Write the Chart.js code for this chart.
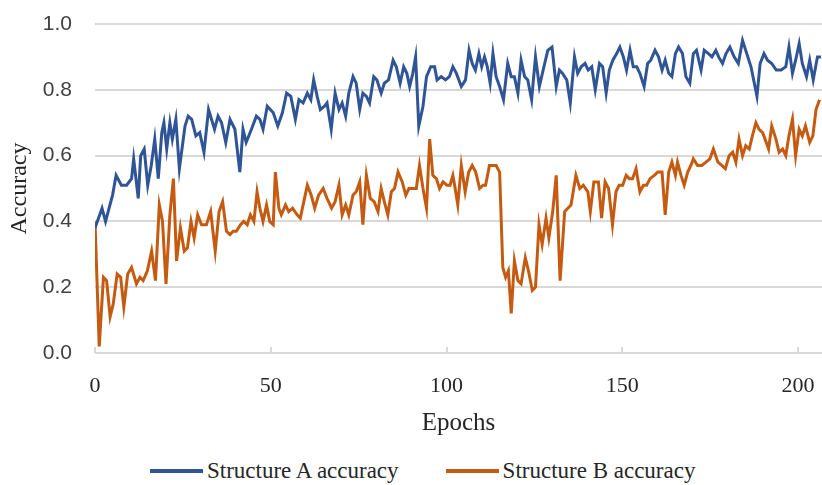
<!DOCTYPE html>
<html lang="en">
<head>
    <meta charset="UTF-8">
    <title>Structure accuracy</title>
    <style>
        body {
            margin: 0;
            background: #ffffff;
        }

        .chart-box {
            position: relative;
            width: 822px;
            height: 450px;
        }

        .legend {
            display: flex;
            align-items: center;
            height: 35px;
            margin-top: 3px;
            padding-left: 150px;
            font-family: 'Liberation Serif', 'Times New Roman', serif;
            font-size: 23px;
            color: #262626;
        }

        .legend-item {
            display: flex;
            align-items: center;
            margin-right: 47px;
        }

        .legend-line {
            width: 53px;
            height: 4px;
            margin-right: 4px;
        }
    </style>
</head>
<body>
    <div class="chart-box">
        <canvas id="accChart"></canvas>
    </div>
    <div class="legend">
        <div class="legend-item">
            <div class="legend-line" style="background: #2f5597;"></div>
            <span>Structure A accuracy</span>
        </div>
        <div class="legend-item">
            <div class="legend-line" style="background: #c55a11;"></div>
            <span>Structure B accuracy</span>
        </div>
    </div>

    <script src="https://cdn.jsdelivr.net/npm/chart.js"></script>
    <script>
        // values
        const epochsA = [
            0, 2, 3, 5, 6, 7.5, 9, 10.4, 11, 12.3, 13, 14, 15, 16, 17, 18, 19, 19.6, 20.4, 21.3,
            22, 23, 24, 25.6, 26.5, 27.5, 28.7, 29.8, 31, 32.3, 34, 35, 36, 37.2, 38.4, 39.8, 41.2, 42.1, 43, 44.5,
            45.9, 46.9, 47.8, 49, 50.7, 52, 53.3, 54.5, 55.7, 57, 58, 59.2, 60.4, 61.4, 62.2, 63.2, 64.1, 65.3, 66, 67.2,
            68.3, 69.4, 70.3, 71.3, 72.2, 73.4, 74.3, 75.3, 76.2, 77.2, 78.1, 79.3, 80.2, 81.4, 82.3, 83.5, 84.8, 85.7, 86.8, 87.8,
            88.7, 89.5, 90.4, 91.2, 92.1, 93.3, 94.3, 95.5, 96.6, 97.3, 98.5, 99.7, 100.8, 101.8, 102.8, 104.2, 105.4, 106.4, 107.3, 108.2,
            109.2, 110, 110.8, 111.6, 112.4, 113.2, 114.1, 115.1, 116.2, 117.4, 118.4, 119.3, 120.3, 121.2, 122.2, 123.1, 124.2, 125.3, 126.4, 127.7,
            128.8, 130, 131.2, 132.1, 133, 134.2, 135.2, 136.4, 137.3, 138.3, 139.4, 140.3, 141.3, 142.3, 143.5, 144.4, 145.4, 146.3, 147.3, 148.4,
            149.3, 150.3, 151.2, 152.2, 153.1, 154.1, 155, 156.2, 157.2, 158.1, 159.3, 160.3, 161.3, 162.2, 163.2, 164.1, 165.1, 166, 167.1, 168.1,
            169.2, 170.2, 171.1, 172.4, 173.3, 174.5, 175.5, 176.6, 177.4, 178.5, 179.5, 180.6, 181.8, 183, 184.2, 185.4, 186.6, 188.3, 189.2, 190.3,
            191.3, 192.5, 193.8, 195.2, 196.5, 197.4, 198.4, 199.3, 200.3, 201.2, 202.4, 203.3, 204.3, 205.5, 206.5
        ];
        const accA = [
            0.38, 0.44, 0.40, 0.48, 0.54, 0.51, 0.51, 0.53, 0.59, 0.47, 0.60, 0.62, 0.51, 0.57, 0.65, 0.53, 0.67, 0.70, 0.62, 0.70,
            0.65, 0.71, 0.56, 0.69, 0.72, 0.71, 0.66, 0.67, 0.61, 0.74, 0.68, 0.72, 0.70, 0.64, 0.71, 0.68, 0.55, 0.68, 0.64, 0.68,
            0.72, 0.71, 0.68, 0.75, 0.73, 0.69, 0.73, 0.79, 0.78, 0.71, 0.77, 0.76, 0.79, 0.77, 0.83, 0.78, 0.74, 0.75, 0.76, 0.68,
            0.79, 0.74, 0.76, 0.72, 0.79, 0.84, 0.82, 0.74, 0.79, 0.78, 0.76, 0.84, 0.83, 0.79, 0.82, 0.83, 0.89, 0.87, 0.82, 0.87,
            0.85, 0.81, 0.85, 0.90, 0.69, 0.75, 0.84, 0.87, 0.87, 0.83, 0.84, 0.83, 0.84, 0.87, 0.85, 0.81, 0.83, 0.92, 0.88, 0.86,
            0.91, 0.87, 0.90, 0.87, 0.82, 0.91, 0.84, 0.81, 0.77, 0.88, 0.84, 0.84, 0.79, 0.89, 0.84, 0.83, 0.77, 0.90, 0.81, 0.87,
            0.92, 0.93, 0.81, 0.86, 0.85, 0.83, 0.76, 0.90, 0.85, 0.87, 0.88, 0.86, 0.87, 0.80, 0.88, 0.87, 0.79, 0.86, 0.89, 0.91,
            0.93, 0.90, 0.86, 0.92, 0.87, 0.87, 0.85, 0.81, 0.88, 0.89, 0.92, 0.90, 0.86, 0.89, 0.85, 0.84, 0.91, 0.93, 0.91, 0.84,
            0.82, 0.91, 0.92, 0.86, 0.92, 0.91, 0.90, 0.92, 0.90, 0.88, 0.91, 0.93, 0.90, 0.88, 0.95, 0.91, 0.87, 0.78, 0.88, 0.91,
            0.89, 0.88, 0.86, 0.86, 0.87, 0.93, 0.85, 0.89, 0.94, 0.88, 0.84, 0.89, 0.83, 0.90, 0.90
        ];

        const epochsB = [
            0, 1.2, 2.4, 3.3, 4.3, 5.2, 6.3, 7.3, 8.2, 9.3, 10.4, 11.8, 12.8, 13.7, 14.9, 16.1, 17.2, 18.3, 19.2, 20.2,
            21.3, 22.3, 23.2, 24.3, 25.4, 26.3, 27.3, 28.2, 29.2, 30.3, 31.7, 32.9, 34.2, 35.3, 36.3, 37.4, 38.4, 39.3, 40.2, 41.4,
            42.3, 43.3, 44.2, 45.2, 46.1, 46.9, 47.8, 48.8, 49.7, 50.7, 51.3, 52.3, 53, 54.2, 55.1, 56.2, 57.5, 58.4, 59.4, 60.4,
            61.5, 62.5, 63.6, 64.9, 66, 67.3, 68.3, 69.4, 70.3, 71.3, 72.2, 73.4, 74.3, 75.3, 76.2, 77.2, 78.3, 79.4, 80.5, 81.4,
            82.3, 83.3, 84.3, 85.2, 86.2, 87.4, 88.4, 89.3, 90.4, 91.4, 92.3, 93.3, 94.3, 95.2, 96.1, 97.1, 98, 99, 100.1, 101,
            101.8, 102.3, 103.2, 104.2, 105.3, 106.3, 107.3, 108.3, 109.4, 110.4, 111.1, 112.2, 113.2, 114.1, 115.1, 116, 116.8, 117.6, 118.4, 119.3,
            120.3, 121.2, 122.4, 123.3, 124.4, 125.3, 126.3, 127.2, 128.3, 129.1, 130.2, 131.2, 132.3, 133.6, 134.5, 135.4, 136.8, 137.9, 138.9, 140.2,
            140.9, 141.9, 143.2, 144.1, 145.1, 146.1, 147.2, 148.2, 149.1, 150.1, 151.1, 152, 152.9, 153.9, 155, 156, 156.9, 157.9, 159.1, 160.1,
            161.3, 162.2, 163.2, 164.1, 165.1, 165.7, 166.7, 167.6, 168.6, 169.5, 170.2, 171.4, 172.6, 173.8, 174.9, 175.9, 177.2, 178.3, 179.3, 180.4,
            181.4, 182.3, 183.2, 184.2, 185.1, 186.1, 187, 188, 188.9, 189.9, 190.6, 191.6, 192.5, 193.7, 194.6, 195.6, 196.5, 197.4, 198.4, 199.3,
            200.3, 201.2, 202.1, 203.3, 204.2, 205.1, 206.1
        ];
        const accB = [
            0.40, 0.02, 0.23, 0.22, 0.11, 0.15, 0.24, 0.23, 0.14, 0.24, 0.26, 0.21, 0.23, 0.22, 0.25, 0.31, 0.22, 0.45, 0.40, 0.21,
            0.42, 0.53, 0.28, 0.38, 0.31, 0.32, 0.40, 0.35, 0.42, 0.39, 0.39, 0.43, 0.31, 0.43, 0.46, 0.37, 0.36, 0.37, 0.37, 0.39,
            0.40, 0.39, 0.42, 0.40, 0.49, 0.44, 0.40, 0.45, 0.40, 0.39, 0.55, 0.44, 0.42, 0.45, 0.43, 0.44, 0.42, 0.41, 0.46, 0.51,
            0.48, 0.44, 0.48, 0.50, 0.47, 0.44, 0.46, 0.51, 0.42, 0.45, 0.42, 0.48, 0.49, 0.52, 0.39, 0.54, 0.47, 0.46, 0.43, 0.50,
            0.46, 0.42, 0.49, 0.50, 0.55, 0.52, 0.48, 0.50, 0.50, 0.50, 0.57, 0.50, 0.44, 0.65, 0.54, 0.53, 0.50, 0.52, 0.51, 0.51,
            0.54, 0.51, 0.45, 0.57, 0.49, 0.55, 0.57, 0.55, 0.50, 0.51, 0.51, 0.57, 0.57, 0.57, 0.55, 0.26, 0.23, 0.25, 0.12, 0.28,
            0.22, 0.21, 0.29, 0.25, 0.19, 0.20, 0.39, 0.33, 0.41, 0.35, 0.43, 0.54, 0.22, 0.43, 0.44, 0.45, 0.54, 0.50, 0.51, 0.49,
            0.43, 0.52, 0.52, 0.41, 0.52, 0.50, 0.39, 0.49, 0.51, 0.51, 0.54, 0.53, 0.53, 0.56, 0.49, 0.51, 0.51, 0.53, 0.54, 0.55,
            0.55, 0.42, 0.55, 0.58, 0.54, 0.58, 0.54, 0.51, 0.55, 0.57, 0.59, 0.57, 0.57, 0.58, 0.59, 0.62, 0.58, 0.57, 0.56, 0.60,
            0.61, 0.58, 0.65, 0.60, 0.63, 0.62, 0.66, 0.70, 0.68, 0.67, 0.65, 0.62, 0.69, 0.65, 0.61, 0.62, 0.60, 0.66, 0.71, 0.60,
            0.68, 0.66, 0.69, 0.64, 0.66, 0.74, 0.77
        ];

        const xTicks = [0, 50, 100, 150, 200];
        const yTicks = [0, 0.2, 0.4, 0.6, 0.8, 1.0];

        function toPoints(xs, ys) {
            return xs.map((x, i) => ({ x: x, y: ys[i] }));
        }

        Chart.defaults.font.family = "'Liberation Serif', 'Times New Roman', serif";
        Chart.defaults.color = '#262626';

        const ctx = document.getElementById('accChart').getContext('2d');

        new Chart(ctx, {
            type: 'line',
            data: {
                datasets: [
                    {
                        label: 'Structure A accuracy',
                        data: toPoints(epochsA, accA),
                        borderColor: '#2f5597',
                        backgroundColor: '#2f5597',
                        borderWidth: 3,
                        pointRadius: 0,
                        tension: 0
                    },
                    {
                        label: 'Structure B accuracy',
                        data: toPoints(epochsB, accB),
                        borderColor: '#c55a11',
                        backgroundColor: '#c55a11',
                        borderWidth: 3,
                        pointRadius: 0,
                        tension: 0
                    }
                ]
            },
            options: {
                responsive: true,
                maintainAspectRatio: false,
                animation: false,
                layout: {
                    padding: { top: 24, left: 0, right: 0, bottom: 0 }
                },
                scales: {
                    x: {
                        type: 'linear',
                        min: 0,
                        max: 206.8,
                        afterBuildTicks: function(scale) {
                            scale.ticks = xTicks.map(v => ({ value: v }));
                        },
                        afterFit: function(scale) {
                            scale.height = 97;
                            // let the plot run to the right edge
                            scale.paddingLeft = 0;
                            scale.paddingRight = 0;
                        },
                        ticks: {
                            padding: 26,
                            maxRotation: 0,
                            font: { size: 22 },
                            color: '#262626'
                        },
                        grid: {
                            drawOnChartArea: false,
                            drawTicks: true,
                            tickLength: -6,
                            color: '#d9d9d9',
                            lineWidth: 2
                        },
                        border: { display: false },
                        title: {
                            display: true,
                            text: 'Epochs',
                            font: { size: 25 },
                            color: '#262626',
                            padding: { top: 0, bottom: 12 }
                        }
                    },
                    y: {
                        min: 0,
                        max: 1,
                        afterBuildTicks: function(scale) {
                            scale.ticks = yTicks.map(v => ({ value: v }));
                        },
                        afterFit: function(scale) {
                            scale.width = 95;
                            scale.paddingTop = 0;
                            scale.paddingBottom = 0;
                        },
                        ticks: {
                            padding: 23,
                            font: { family: "'Liberation Sans', Arial, sans-serif", size: 21 },
                            color: '#404040',
                            callback: function(value) {
                                return value.toFixed(1);
                            }
                        },
                        grid: {
                            drawTicks: false,
                            color: '#d9d9d9',
                            lineWidth: 2
                        },
                        border: { display: false },
                        title: {
                            display: true,
                            text: 'Accuracy',
                            font: { size: 24 },
                            color: '#262626',
                            padding: { top: 5, bottom: 0 }
                        }
                    }
                },
                plugins: {
                    legend: { display: false },
                    tooltip: { enabled: false }
                }
            }
        });
    </script>
</body>
</html>
